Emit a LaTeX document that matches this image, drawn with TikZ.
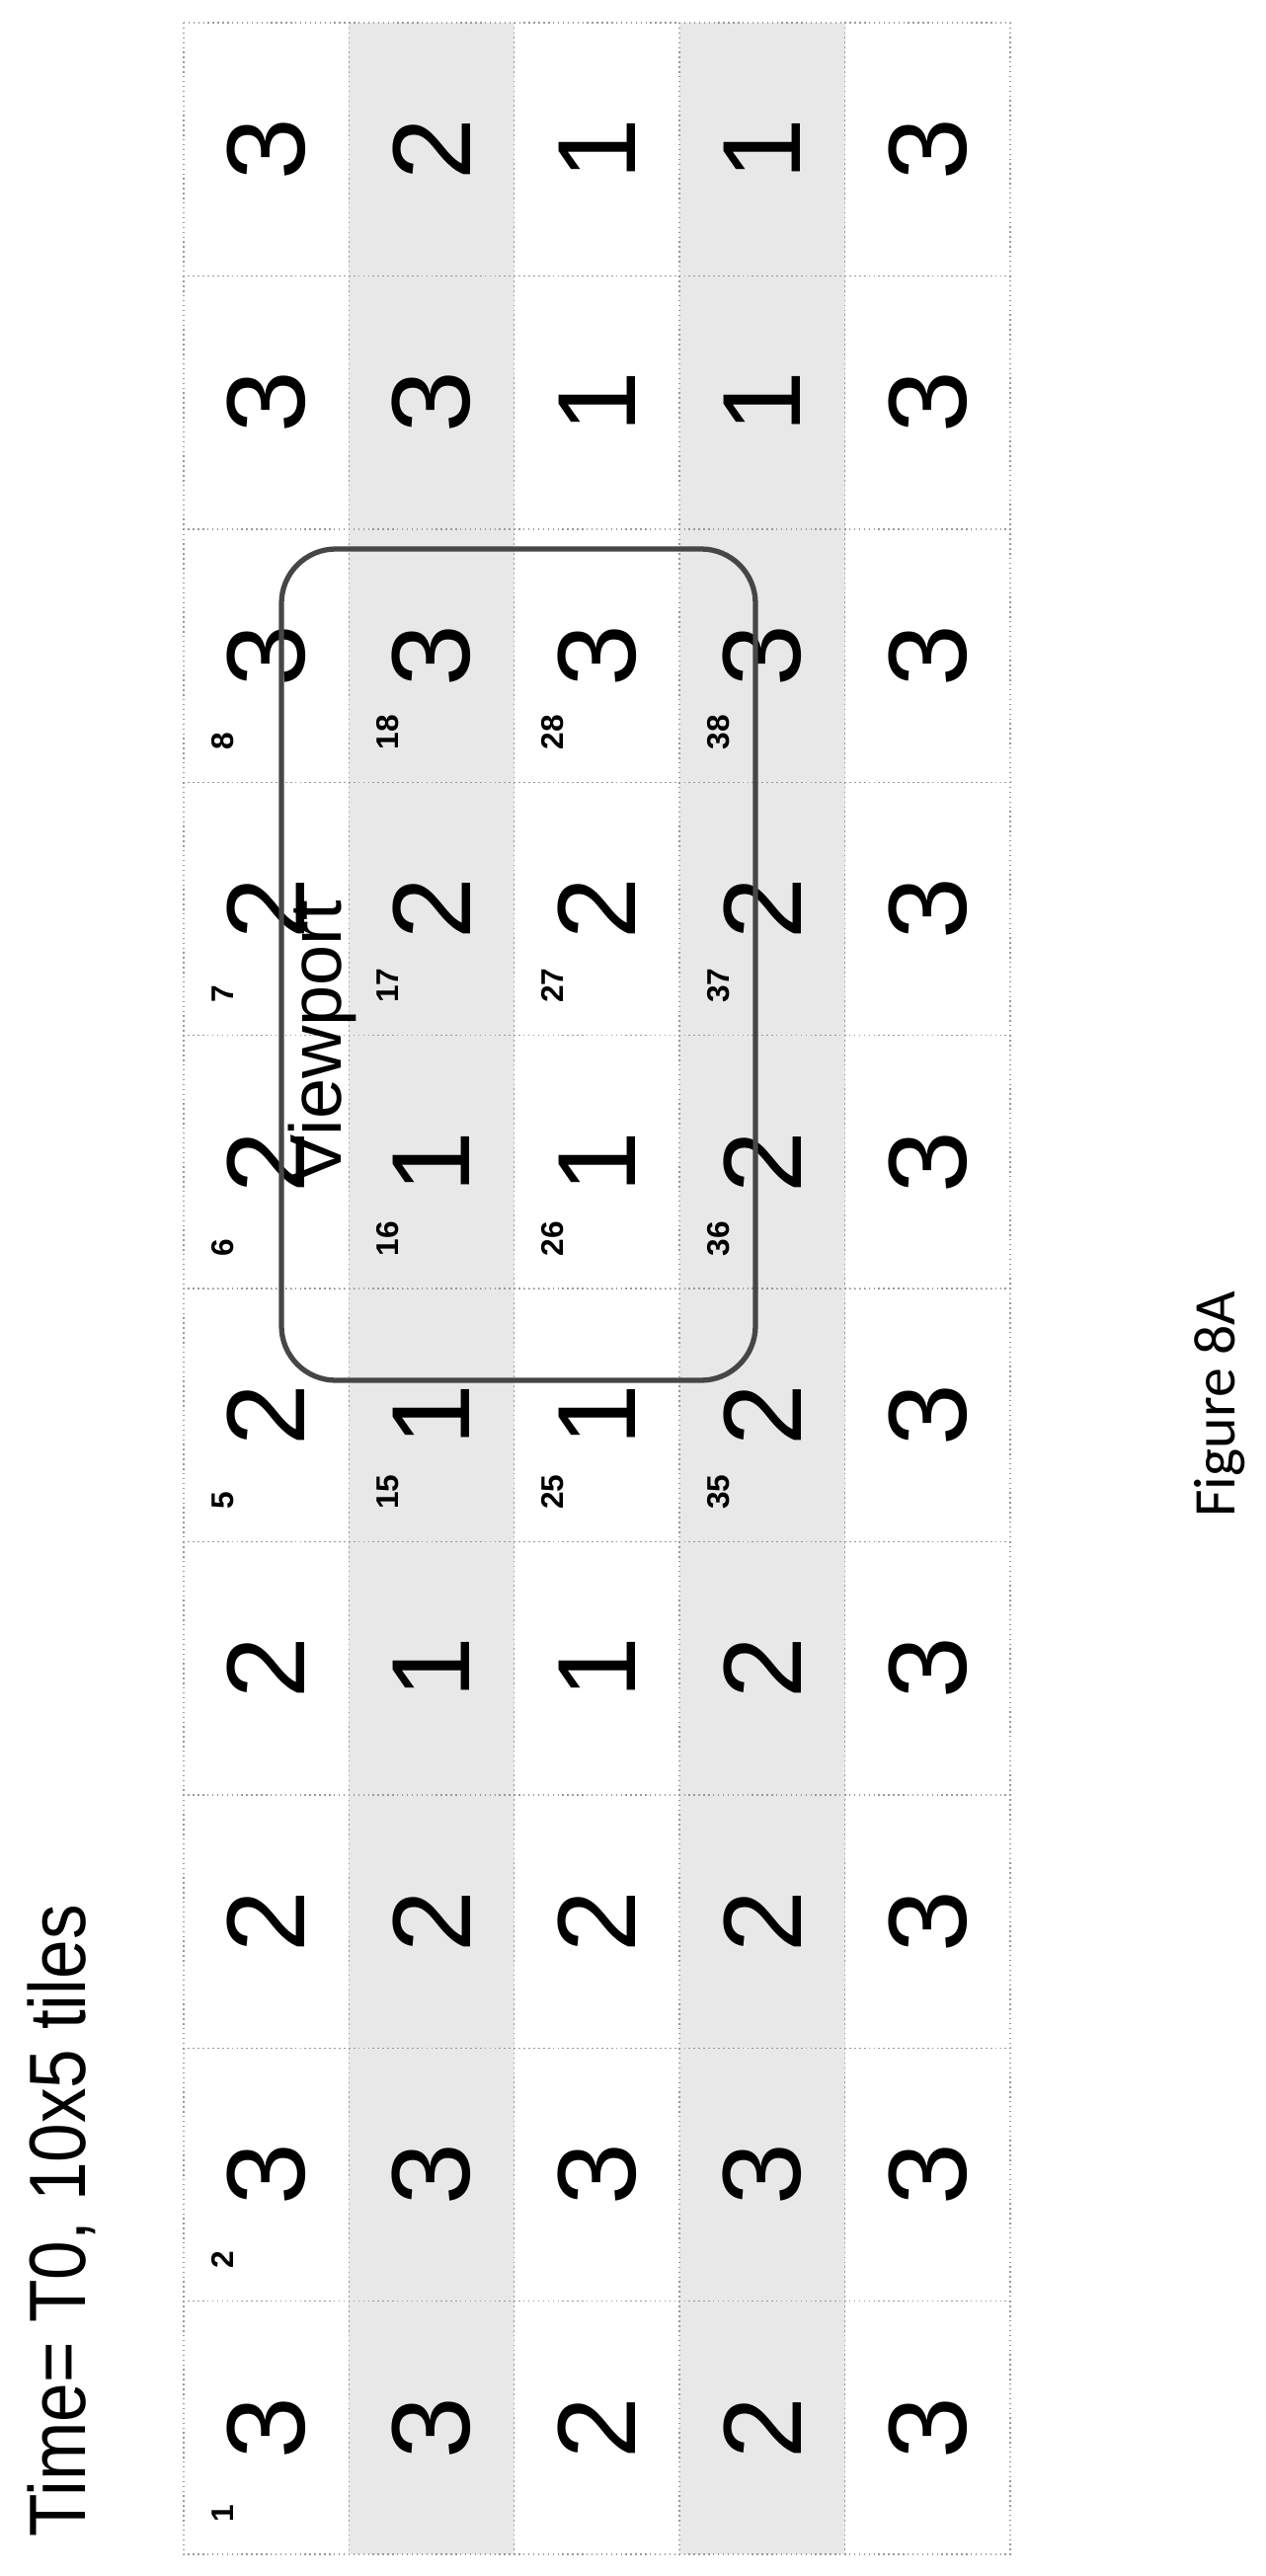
\documentclass[tikz,border=0pt]{standalone}
\usepackage{fontspec}
\setmainfont{Liberation Sans}
\newfontfamily\figfont{Carlito}
\usepackage{tikz}
\usetikzlibrary{positioning,calc}

\begin{document}
\begin{tikzpicture}[
    x=0.01cm, y=-0.01cm,
    tile/.style={draw=gray!80, densely dotted, rotate=90, inner sep=0pt, minimum width=2.564cm, minimum height=1.674cm, font=\fontsize{32}{32}\selectfont},
    tilenum/.style={anchor=base west, rotate=90, inner sep=0pt, font=\bfseries\fontsize{9}{9}\selectfont},
    viewport/.style={draw=gray!55!black, line width=1.5pt, rounded corners=0.55cm}
]
\path[use as bounding box] (0,0) rectangle (1282,2609);

% Title
\node[anchor=base west, rotate=90, inner sep=0pt, font=\fontsize{23}{23}\selectfont] (title) at (87,2570) {\scalebox{0.88}[1]{Time= T0, 10x5 tiles}};

% Tiles
\foreach \r/\f/\vals in {1/white/{3,3,2,2,2,2,2,3,3,3}, 2/gray!18/{3,3,2,1,1,1,2,3,3,2}, 3/white/{2,3,2,1,1,1,2,3,1,1}, 4/gray!18/{2,3,2,2,2,2,2,3,1,1}, 5/white/{3,3,3,3,3,3,3,3,3,3}}{
  \foreach \v [count=\c] in \vals {
    \node[tile, fill=\f] (t\r-\c) at ({186+167.4*(\r-0.5)}, {2587-256.4*(\c-0.5)}) {\v};
  }
}

% Tile numbers
\foreach \r/\c in {1/1, 1/2, 1/5, 1/6, 1/7, 1/8, 2/5, 2/6, 2/7, 2/8, 3/5, 3/6, 3/7, 3/8, 4/5, 4/6, 4/7, 4/8}{
  \pgfmathtruncatemacro\n{(\r-1)*10+\c}
  \node[tilenum] (n\n) at ({186+167.4*(\r-1)+50}, {2587-256.4*(\c-1)-32}) {\n};
}

% Viewport
\draw[viewport] (285,556) rectangle (765,1398);
\node[anchor=base west, rotate=90, inner sep=0pt, font=\fontsize{21}{21}\selectfont] (vplabel) at (345,1199) {Viewport};

% Caption
\node[anchor=base east, rotate=90, inner sep=0pt, font=\figfont\fontsize{17}{17}\selectfont] (caption) at (1250,1307) {Figure 8A};

\end{tikzpicture}
\end{document}
